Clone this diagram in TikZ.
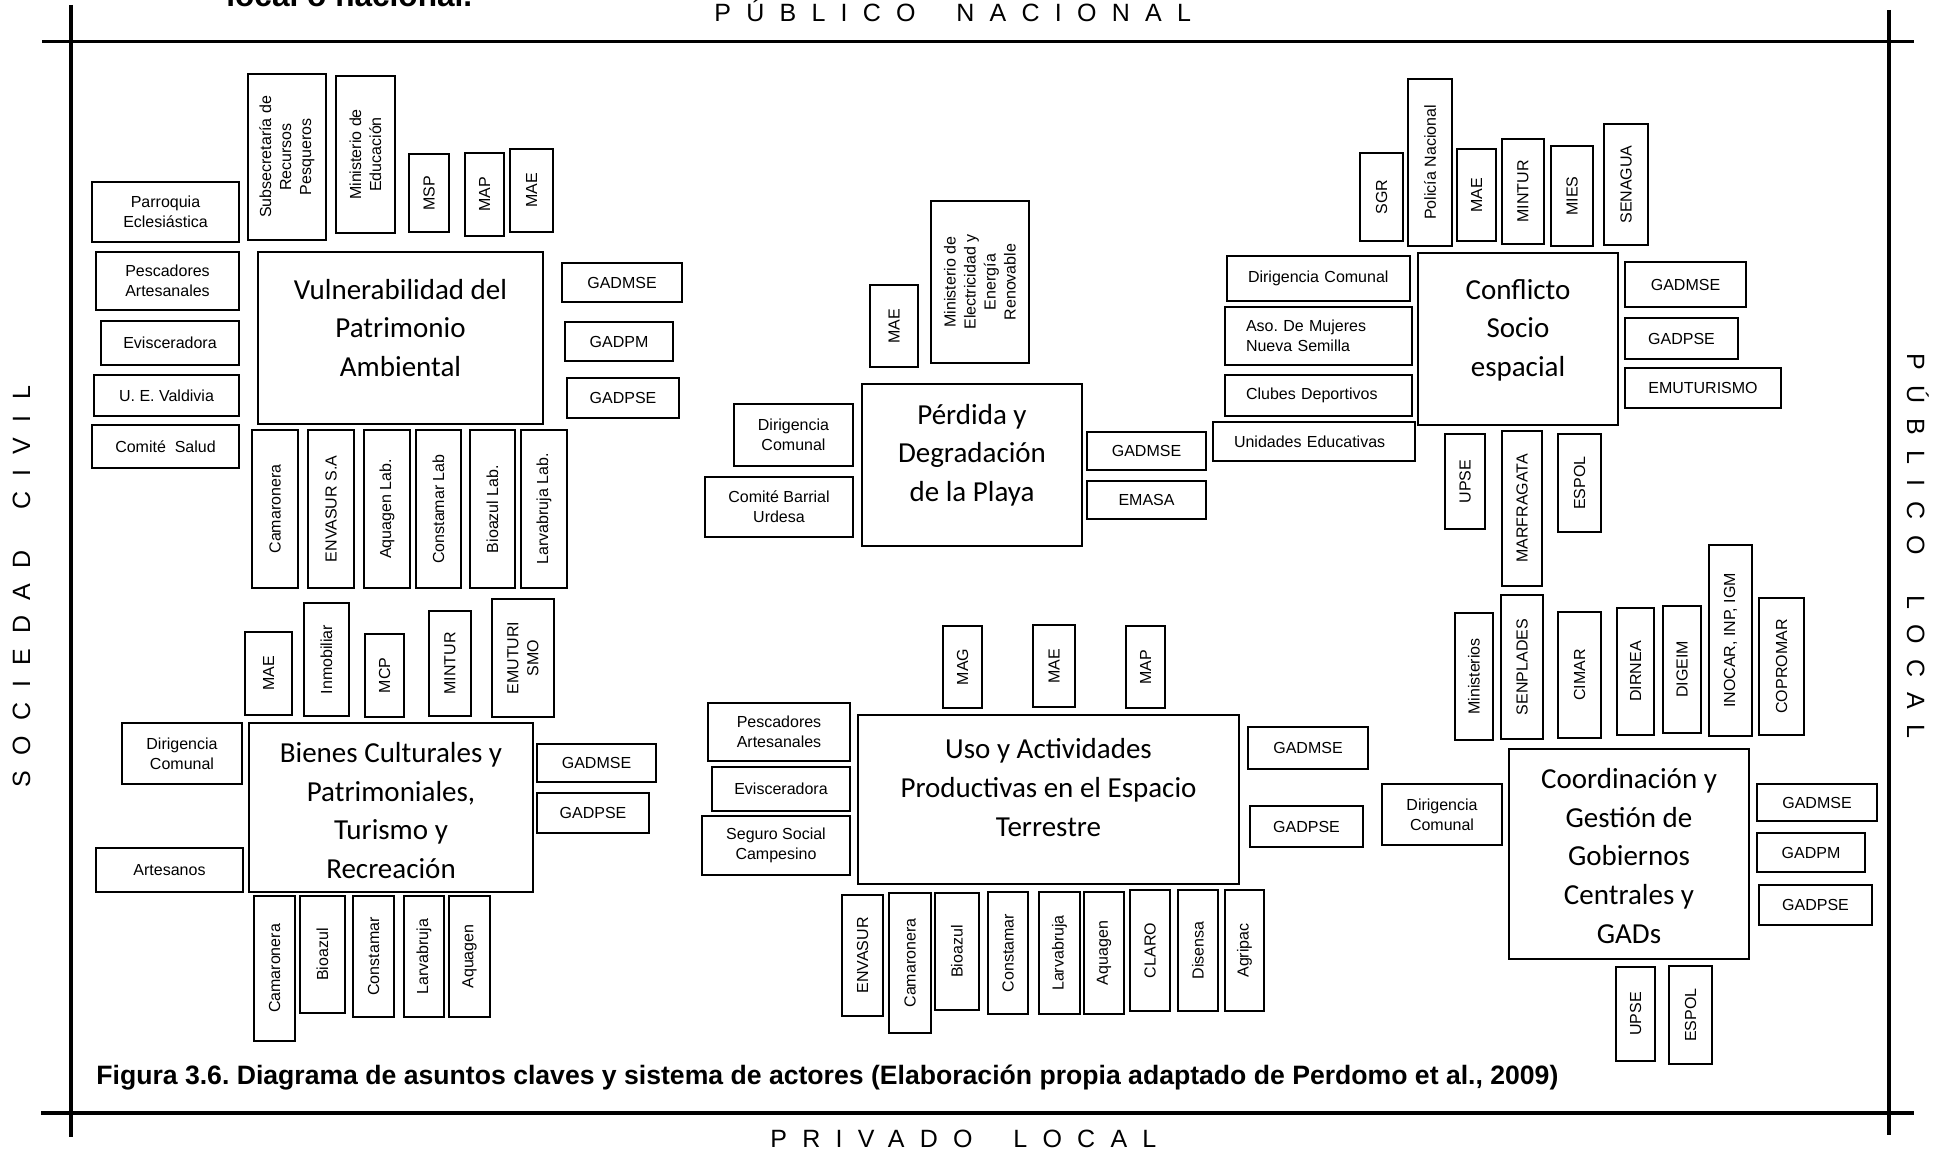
\documentclass[tikz,border=0pt]{standalone}
\usepackage{fontspec}
\setmainfont{Liberation Sans}
\newfontfamily\calibri{Carlito}
\newfontfamily\spaced[LetterSpace=61]{Liberation Sans}
\usepackage{tikz}
\usetikzlibrary{positioning}
\frenchspacing
\tikzset{%
  % Specifications for style of nodes:
  actor/.style = {rectangle, draw=black, line width=1.3pt, inner sep=1pt,
    align=center, font=\fontsize{8}{10}\selectfont},
  vactor/.style = {actor, rotate=90},
  lactor/.style = {actor, align=left, inner xsep=10.5pt},
  issue/.style = {rectangle, draw=black, line width=1.3pt},
  issuetext/.style = {align=center, font=\calibri\fontsize{14.5}{19.3}\selectfont},
  axislabel/.style = {inner sep=0pt, font=\spaced\fontsize{12.5}{14}\selectfont},
  frameline/.style = {line width=1.8pt},
  wh/.style 2 args = {minimum width=#1*0.5pt, minimum height=#2*0.5pt},
}

\begin{document}
\begin{tikzpicture}[x=0.5pt, y=-0.5pt]
  \useasboundingbox (0,0) rectangle (1954,1150);
  % Frame and axis labels
  \draw[frameline] (42,41.5) -- (1914,41.5);
  \draw[frameline] (41,1113) -- (1914,1113);
  \draw[frameline] (71,5) -- (71,1137);
  \draw[frameline] (1889,10) -- (1889,1135);
  \node(head)[anchor=base west, inner sep=0pt, font=\bfseries\fontsize{15.8}{18}\selectfont] at (226,7) {local o nacional.};
  \node(pubnac)[axislabel, anchor=base west] at (714,22) {PÚBLICO\hspace{9.3pt} NACIONAL};
  \node(privloc)[axislabel, anchor=base west] at (770,1147) {PRIVADO\hspace{9.3pt} LOCAL};
  \node(socciv)[axislabel, anchor=base west, rotate=90] at (30,788) {SOCIEDAD\hspace{9.3pt} CIVIL};
  \node(publoc)[axislabel, anchor=base west, rotate=-90] at (1907,353) {PÚBLICO\hspace{9.3pt} LOCAL};
  \node(caption)[anchor=base west, inner sep=0pt, font=\bfseries\fontsize{13.3}{16}\selectfont] at (96,1084) {Figura 3.6. Diagrama de asuntos claves y sistema de actores (Elaboración propia adaptado de Perdomo et al., 2009)};

  % Vulnerabilidad del Patrimonio Ambiental
  \node(vul)[issue, wh={285}{172}, label={[issuetext, yshift=5pt]center:{Vulnerabilidad del\\Patrimonio\\Ambiental}}] at (400.5,338) {};
  \node(parroquia)[actor, wh={147}{60}] at (165.5,212) {Parroquia\\Eclesiástica};
  \node(pescA)[actor, wh={143}{58}] at (167.5,281) {Pescadores\\Artesanales};
  \node(evisA)[actor, wh={138}{44}] at (170,343) {Evisceradora};
  \node(valdivia)[actor, wh={145}{41}] at (166.5,395.5) {U. E. Valdivia};
  \node(salud)[actor, wh={147}{43}] at (165.5,446.5) {Comité\ \ Salud};
  \node(subsec)[vactor, wh={166}{78}] at (287,157) {Subsecretaría de\\Recursos\\Pesqueros};
  \node(mined)[vactor, wh={157}{59}] at (365.5,154.5) {Ministerio de\\Educación};
  \node(msp)[vactor, wh={78}{40}] at (429,193) {MSP};
  \node(mapA)[vactor, wh={83}{39}] at (484.5,194.5) {MAP};
  \node(maeA)[vactor, wh={83}{43}] at (531.5,190.5) {MAE};
  \node(gadmseA)[actor, wh={120}{39}] at (622,282.5) {GADMSE};
  \node(gadpmA)[actor, wh={108}{39}] at (619,341.5) {GADPM};
  \node(gadpseA)[actor, wh={112}{40}] at (623,398) {GADPSE};
  \node(camA)[vactor, wh={158}{46}] at (275,509) {Camaronera};
  \node(envA)[vactor, wh={158}{46}] at (331,509) {ENVASUR S.A};
  \node(aquaA)[vactor, wh={158}{46}] at (387,509) {Aquagen Lab.};
  \node(constA)[vactor, wh={158}{45}] at (438.5,509) {Constamar Lab};
  \node(bioA)[vactor, wh={158}{45}] at (492.5,509) {Bioazul Lab.};
  \node(larvA)[vactor, wh={158}{46}] at (544,509) {Larvabruja Lab.};

  % Bienes Culturales y Patrimoniales, Turismo y Recreacion
  \node(bienes)[issue, wh={284}{169}, label={[issuetext, yshift=-1.5pt]center:{Bienes Culturales y\\Patrimoniales,\\Turismo y\\Recreación}}] at (391,807.5) {};
  \node(dirB)[actor, wh={120}{61}] at (182,753.5) {Dirigencia\\Comunal};
  \node(artes)[actor, wh={147}{44}] at (169.5,870) {Artesanos};
  \node(gadmseB)[actor, wh={119}{38}] at (596.5,763) {GADMSE};
  \node(gadpseB)[actor, wh={112}{40}] at (593,813) {GADPSE};
  \node(maeB)[vactor, wh={83}{47}] at (268.5,673.5) {MAE};
  \node(inmob)[vactor, wh={113}{45}] at (326.5,659.5) {Inmobiliar};
  \node(mcp)[vactor, wh={83}{39}] at (384.5,675.5) {MCP};
  \node(minturB)[vactor, wh={105}{42}] at (450,663.5) {MINTUR};
  \node(emutB)[vactor, wh={118}{62}] at (523,658) {EMUTURI\\SMO};
  \node(camB)[vactor, wh={145}{41}] at (274.5,968.5) {Camaronera};
  \node(bioB)[vactor, wh={117}{45}] at (322.5,954.5) {Bioazul};
  \node(constB)[vactor, wh={121}{41}] at (373.5,956.5) {Constamar};
  \node(larvB)[vactor, wh={121}{40}] at (424,956.5) {Larvabruja};
  \node(aquaB)[vactor, wh={121}{41}] at (469.5,956.5) {Aquagen};

  % Perdida y Degradacion de la Playa
  \node(perdida)[issue, wh={220}{162}, label={[issuetext, yshift=5pt]center:{Pérdida y\\Degradación\\de la Playa}}] at (972,465) {};
  \node(maeC)[vactor, wh={82}{48}] at (894,326) {MAE};
  \node(minelec)[vactor, wh={162}{98}] at (980,282) {Ministerio de\\Electricidad y\\Energía\\Renovable};
  \node(dirC)[actor, wh={119}{62}] at (793.5,435) {Dirigencia\\Comunal};
  \node(barrial)[actor, wh={148}{60}] at (779,507) {Comité Barrial\\Urdesa};
  \node(gadmseC)[actor, wh={119}{38}] at (1146.5,451) {GADMSE};
  \node(emasa)[actor, wh={119}{38}] at (1146.5,500) {EMASA};

  % Conflicto Socio espacial
  \node(conflicto)[issue, wh={200}{172}, label={[issuetext, yshift=4.5pt]center:{Conflicto\\Socio\\espacial}}] at (1518,339) {};
  \node(sgr)[vactor, wh={88}{43}] at (1381.5,197) {SGR};
  \node(policia)[vactor, wh={167}{44}] at (1430,162.5) {Policía Nacional};
  \node(maeD)[vactor, wh={92}{39}] at (1476.5,195) {MAE};
  \node(minturD)[vactor, wh={105}{42}] at (1523,191.5) {MINTUR};
  \node(mies)[vactor, wh={100}{42}] at (1572,196) {MIES};
  \node(senagua)[vactor, wh={121}{44}] at (1626,184.5) {SENAGUA};
  \node(dirD)[lactor, wh={183}{45}, text width=70.5pt] at (1318.5,278.5) {Dirigencia Comunal};
  \node(mujeres)[lactor, wh={187}{58}, text width=72.5pt] at (1318.5,336) {Aso. De Mujeres\\Nueva Semilla};
  \node(clubes)[lactor, wh={187}{41}, text width=72.5pt] at (1318.5,395.5) {Clubes Deportivos};
  \node(unidades)[lactor, wh={202}{39}, text width=80pt] at (1314,441.5) {Unidades Educativas};
  \node(gadmseD)[actor, wh={121}{45}] at (1685.5,284.5) {GADMSE};
  \node(gadpseD)[actor, wh={113}{41}] at (1681.5,338.5) {GADPSE};
  \node(emutD)[actor, wh={156}{40}] at (1703,388) {EMUTURISMO};
  \node(upseD)[vactor, wh={95}{40}] at (1465,481.5) {UPSE};
  \node(marfra)[vactor, wh={155}{40}] at (1522,508.5) {MARFRAGATA};
  \node(espolD)[vactor, wh={98}{43}] at (1579.5,483) {ESPOL};

  % Uso y Actividades Productivas en el Espacio Terrestre
  \node(uso)[issue, wh={381}{169}, label={[issuetext, yshift=6pt]center:{Uso y Actividades\\Productivas en el Espacio\\Terrestre}}] at (1048.5,799.5) {};
  \node(mag)[vactor, wh={82}{39}] at (962.5,667) {MAG};
  \node(maeE)[vactor, wh={82}{42}] at (1054,666) {MAE};
  \node(mapE)[vactor, wh={82}{39}] at (1145.5,667) {MAP};
  \node(pescE)[actor, wh={142}{58}] at (779,732) {Pescadores\\Artesanales};
  \node(evisE)[actor, wh={138}{44}] at (781,789) {Evisceradora};
  \node(seguro)[actor, wh={148}{59}] at (776,845.5) {Seguro Social\\Campesino};
  \node(gadmseE)[actor, wh={120}{42}] at (1308,748) {GADMSE};
  \node(gadpseE)[actor, wh={113}{41}] at (1306.5,826.5) {GADPSE};
  \node(envE)[vactor, wh={121}{41}] at (862.5,955.5) {ENVASUR};
  \node(camE)[vactor, wh={140}{42}] at (910,963) {Camaronera};
  \node(bioE)[vactor, wh={117}{44}] at (957,951.5) {Bioazul};
  \node(constE)[vactor, wh={122}{40}] at (1008,953) {Constamar};
  \node(larvE)[vactor, wh={122}{41}] at (1059.5,953) {Larvabruja};
  \node(aquaE)[vactor, wh={122}{40}] at (1104,953) {Aquagen};
  \node(claro)[vactor, wh={121}{40}] at (1150,950.5) {CLARO};
  \node(disensa)[vactor, wh={121}{40}] at (1198,950.5) {Disensa};
  \node(agripac)[vactor, wh={121}{39}] at (1244.5,950.5) {Agripac};

  % Coordinacion y Gestion de Gobiernos Centrales y GADs
  \node(coord)[issue, wh={240}{210}, label={[issuetext, yshift=-1pt]center:{Coordinación y\\Gestión de\\Gobiernos\\Centrales y\\GADs}}] at (1629,854) {};
  \node(ministerios)[vactor, wh={127}{38}] at (1474,676.5) {Ministerios};
  \node(senplades)[vactor, wh={144}{42}] at (1522,667) {SENPLADES};
  \node(cimar)[vactor, wh={126}{43}] at (1579.5,675) {CIMAR};
  \node(dirnea)[vactor, wh={127}{37}] at (1635.5,671.5) {DIRNEA};
  \node(digeim)[vactor, wh={127}{38}] at (1682,669.5) {DIGEIM};
  \node(inocar)[vactor, wh={191}{43}] at (1730.5,640.5) {INOCAR, INP, IGM};
  \node(copromar)[vactor, wh={137}{45}] at (1781.5,666.5) {COPROMAR};
  \node(dirF)[actor, wh={120}{61}] at (1442,814.5) {Dirigencia\\Comunal};
  \node(gadmseF)[actor, wh={120}{37}] at (1817,802.5) {GADMSE};
  \node(gadpmF)[actor, wh={108}{39}] at (1811,852.5) {GADPM};
  \node(gadpseF)[actor, wh={113}{40}] at (1815.5,905) {GADPSE};
  \node(upseF)[vactor, wh={94}{39}] at (1635.5,1014) {UPSE};
  \node(espolF)[vactor, wh={98}{43}] at (1690.5,1015) {ESPOL};
\end{tikzpicture}
\end{document}
